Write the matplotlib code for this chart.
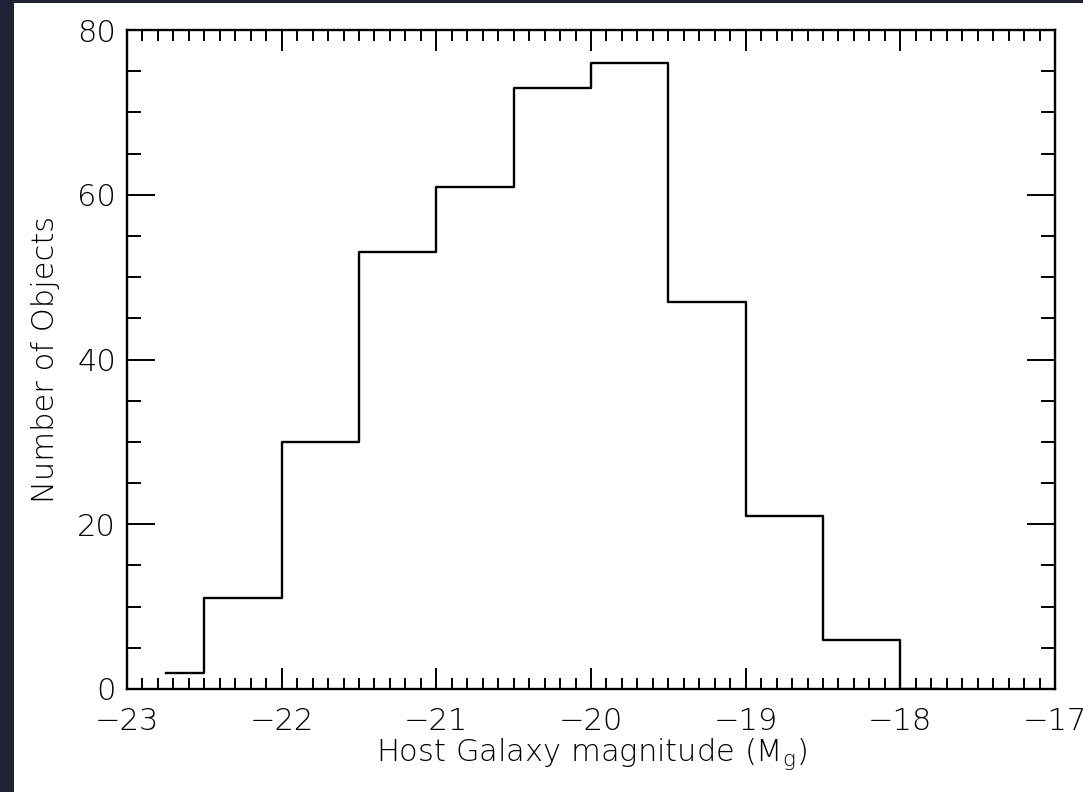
import numpy as np
import matplotlib
matplotlib.use("Agg")
import matplotlib.pyplot as plt
from matplotlib.patches import Rectangle
from matplotlib.ticker import MultipleLocator

# histogram drawn IDL psym=10 style: bin centres and counts
centers = [-22.75, -22.25, -21.75, -21.25, -20.75, -20.25, -19.75, -19.25, -18.75, -18.25, -17.75]
counts = [2, 11, 30, 53, 61, 73, 76, 47, 21, 6, 0]

xticks = [-23, -22, -21, -20, -19, -18, -17]
yticks = [0, 20, 40, 60, 80]

plt.rcParams['font.family'] = ['DejaVu Sans']
plt.rcParams['font.size'] = 22
plt.rcParams['font.weight'] = 'light'
plt.rcParams['axes.labelweight'] = 'light'

fig = plt.figure(figsize=(10.83, 7.92), dpi=100, facecolor='white')
# dark frame on the left and top
fig.patches.append(Rectangle((0, 0), 14 / 1083, 1, transform=fig.transFigure,
                             facecolor='#1f2235', edgecolor='none', zorder=-1))
fig.patches.append(Rectangle((0, 1 - 3 / 792), 1, 3 / 792, transform=fig.transFigure,
                             facecolor='#1f2235', edgecolor='none', zorder=-1))

ax = fig.add_axes([127 / 1083, 1 - 689 / 792, (1055 - 127) / 1083, (689 - 30) / 792])
ax.step(centers, counts, where='mid', color='black', lw=1.7)

ax.set_xlim(-23, -17)
ax.set_ylim(0, 80)
ax.set_xticks(xticks)
ax.set_yticks(yticks)
ax.xaxis.set_minor_locator(MultipleLocator(0.1))
ax.yaxis.set_minor_locator(MultipleLocator(5))

ax.tick_params(which='both', direction='in', top=True, right=True, width=1.4, colors='black')
ax.tick_params(axis='x', which='major', length=15, pad=13)
ax.tick_params(axis='x', which='minor', length=8)
ax.tick_params(axis='y', which='major', length=20, pad=8)
ax.tick_params(axis='y', which='minor', length=10)
for s in ax.spines.values():
    s.set_linewidth(1.7)

ax.set_xlabel('Host Galaxy magnitude (M$_\\mathregular{g}$)', labelpad=0)
ax.set_ylabel('Number of Objects', labelpad=12)

fig.savefig('out.png', dpi=100, facecolor=fig.get_facecolor())
